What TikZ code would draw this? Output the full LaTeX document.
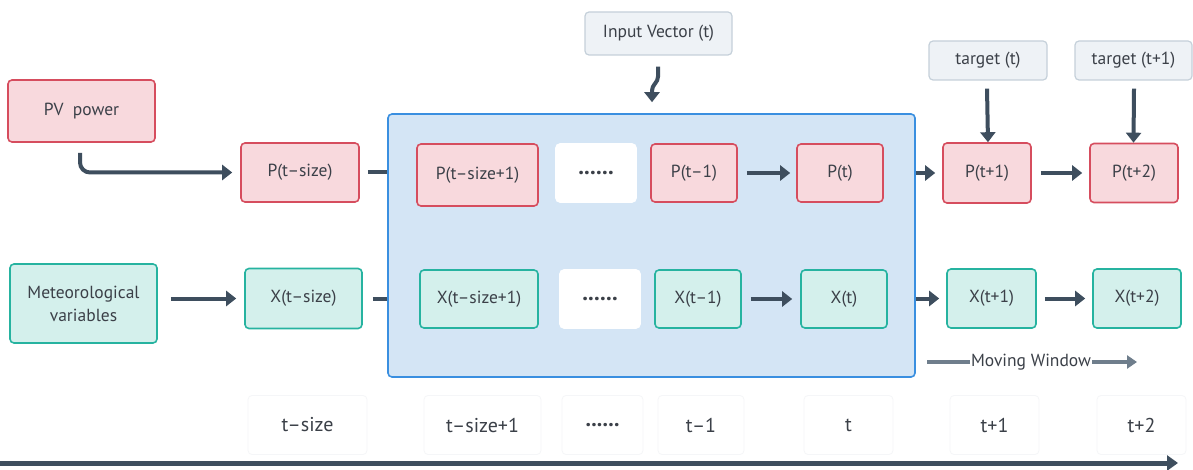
\documentclass[tikz,border=0pt]{standalone}
\usepackage{fontspec}
\setmainfont{PT Sans}
\usetikzlibrary{arrows.meta,calc}
\definecolor{redfill}{HTML}{F8D9DD}
\definecolor{redline}{HTML}{D64D5E}
\definecolor{tealfill}{HTML}{D4F0EC}
\definecolor{tealline}{HTML}{26B3A0}
\definecolor{bluefill}{HTML}{D4E5F5}
\definecolor{blueline}{HTML}{3A8FE0}
\definecolor{grayfill}{HTML}{EEF2F6}
\definecolor{grayline}{HTML}{C5D0DA}
\definecolor{conncol}{HTML}{3E4E5E}
\definecolor{mwcol}{HTML}{6F7E8C}
\definecolor{txtcol}{HTML}{3B4048}
\definecolor{faint}{HTML}{F5F6F8}
\tikzset{
  base/.style={rounded corners=4pt, line width=1.6pt, text=txtcol, font=\fontsize{17.5}{23}\selectfont, align=center, inner sep=0pt},
  pbox/.style={base, draw=redline, fill=redfill},
  xbox/.style={base, draw=tealline, fill=tealfill},
  gbox/.style={base, draw=grayline, fill=grayfill, line width=1.2pt},
  dbox/.style={base, draw=white, fill=white, font=\fontsize{23}{26}\bfseries\selectfont},
  tbox/.style={base, draw=faint, fill=white, line width=0.8pt, font=\fontsize{20}{24}\selectfont},
  conn/.style={draw=conncol, line width=4pt, -{Triangle[length=10pt,width=15pt]}},
  stub/.style={draw=conncol, line width=4pt},
}
\begin{document}
\begin{tikzpicture}[x=1pt,y=-1pt]
\useasboundingbox (0,0) rectangle (1193,470);
\fill[white] (0,0) rectangle (1193,470);
% window
\node[base, draw=blueline, fill=bluefill, minimum width=527, minimum height=263] (win) at (651.5,245.5) {};
% left inputs
\node[pbox, minimum width=147, minimum height=62] (pv) at (81.5,111) {PV\ \ power};
\node[xbox, minimum width=147, minimum height=79] (met) at (83.5,303.5) {Meteorological\\variables};
% P row
\node[pbox, minimum width=118, minimum height=59] (pts) at (300,172.5) {P(t–size)};
\node[pbox, minimum width=121, minimum height=62] (p1) at (477.5,175) {P(t–size+1)};
\node[dbox, minimum width=80, minimum height=58] (pd) at (596,173) {......};
\node[pbox, minimum width=86, minimum height=58] (pm1) at (694,173) {P(t–1)};
\node[pbox, minimum width=86, minimum height=58] (pt) at (840,173) {P(t)};
\node[pbox, minimum width=88, minimum height=60] (pp1) at (987,173) {P(t+1)};
\node[pbox, minimum width=88, minimum height=59] (pp2) at (1134,173) {P(t+2)};
% X row
\node[xbox, minimum width=117, minimum height=60] (xts) at (303.5,298.5) {X(t–size)};
\node[xbox, minimum width=118, minimum height=58] (x1) at (479,299) {X(t–size+1)};
\node[dbox, minimum width=80, minimum height=58] (xd) at (600,299) {......};
\node[xbox, minimum width=86, minimum height=58] (xm1) at (698,299) {X(t–1)};
\node[xbox, minimum width=86, minimum height=58] (xt) at (844,299) {X(t)};
\node[xbox, minimum width=89, minimum height=59] (xp1) at (991.5,298.5) {X(t+1)};
\node[xbox, minimum width=88, minimum height=59] (xp2) at (1137,298.5) {X(t+2)};
% top gray boxes
\node[gbox, minimum width=147, minimum height=43] (iv) at (658.5,33.5) {Input Vector (t)};
\node[gbox, minimum width=118, minimum height=39] (tg1) at (988,60.5) {target (t)};
\node[gbox, minimum width=117, minimum height=39] (tg2) at (1133.5,60.5) {target (t+1)};
% timeline labels
\node[tbox, minimum width=119, minimum height=59] (ts) at (307.5,425) {t–size};
\node[tbox, minimum width=117, minimum height=59] (ts1) at (482.5,425) {t–size+1};
\node[tbox, minimum width=81, minimum height=59, font=\fontsize{22}{24}\bfseries\selectfont] (td) at (602.5,425) {......};
\node[tbox, minimum width=86, minimum height=59] (tm1) at (701,425) {t–1};
\node[tbox, minimum width=89, minimum height=59] (tt) at (848.5,425) {t};
\node[tbox, minimum width=89, minimum height=59] (tp1) at (994.5,425) {t+1};
\node[tbox, minimum width=89, minimum height=59] (tp2) at (1141.5,425) {t+2};
% connectors
\draw[conn, rounded corners=10pt] ($(pv.south)+(-1.5,10)$) |- ($(pts.west)+(-8,0)$);
\draw[conn] ($(met.east|-xts.west)+(13,0)$) -- ($(xts.west)+(-8,0)$);
\draw[stub] ($(pts.east)+(8,0)$) -- (win.west|-pts.east);
\draw[stub] ($(xts.east)+(10,0)$) -- (win.west|-xts.east);
\draw[conn] ($(pm1.east)+(9,0)$) -- ($(pt.west)+(-6,0)$);
\draw[conn] ($(xm1.east)+(9,0)$) -- ($(xt.west)+(-8,0)$);
\draw[conn] (win.east|-pp1.west) -- ($(pp1.west)+(-7,0)$);
\draw[conn] (win.east|-xp1.west) -- ($(xp1.west)+(-7,0)$);
\draw[conn] ($(pp1.east)+(9,0)$) -- ($(pp2.west)+(-7,0)$);
\draw[conn] ($(xp1.east)+(8,0)$) -- ($(xp2.west)+(-7,0)$);
\draw[conn] ($(tg1.south)+(-1,8)$) -- (tg1.south|-pp1.north);
\draw[conn] ($(tg2.south)+(0.5,8)$) -- (tg2.south|-pp2.north);
\coordinate (iv1) at ($(iv.south)+(-0.5,11)$);
\coordinate (iv2) at ($(iv.south)+(-0.5,25)$);
\coordinate (iv3) at ($(iv.south)+(-6.5,31)$);
\draw[conn, rounded corners=4pt] (iv1) -- (iv2) -- (iv3) -- ($(win.north-|iv3)+(0,-11)$);
% moving window
\node[font=\fontsize{17.5}{20}\selectfont, text=txtcol, inner sep=1pt] (mw) at (1031,362) {Moving Window};
\coordinate (mw1) at (927,362);
\coordinate (mw2) at (1137,362);
\draw[draw=mwcol, line width=3.5pt] (mw1) -- (mw.west);
\draw[draw=mwcol, line width=3.5pt, -{Triangle[length=10pt,width=13pt]}] (mw.east) -- (mw2);
% bottom axis
\coordinate (ax1) at (0,463);
\coordinate (ax2) at (1178,463);
\draw[draw=conncol, line width=5pt, -{Triangle[length=11pt,width=15pt]}] (ax1) -- (ax2);
\end{tikzpicture}
\end{document}
